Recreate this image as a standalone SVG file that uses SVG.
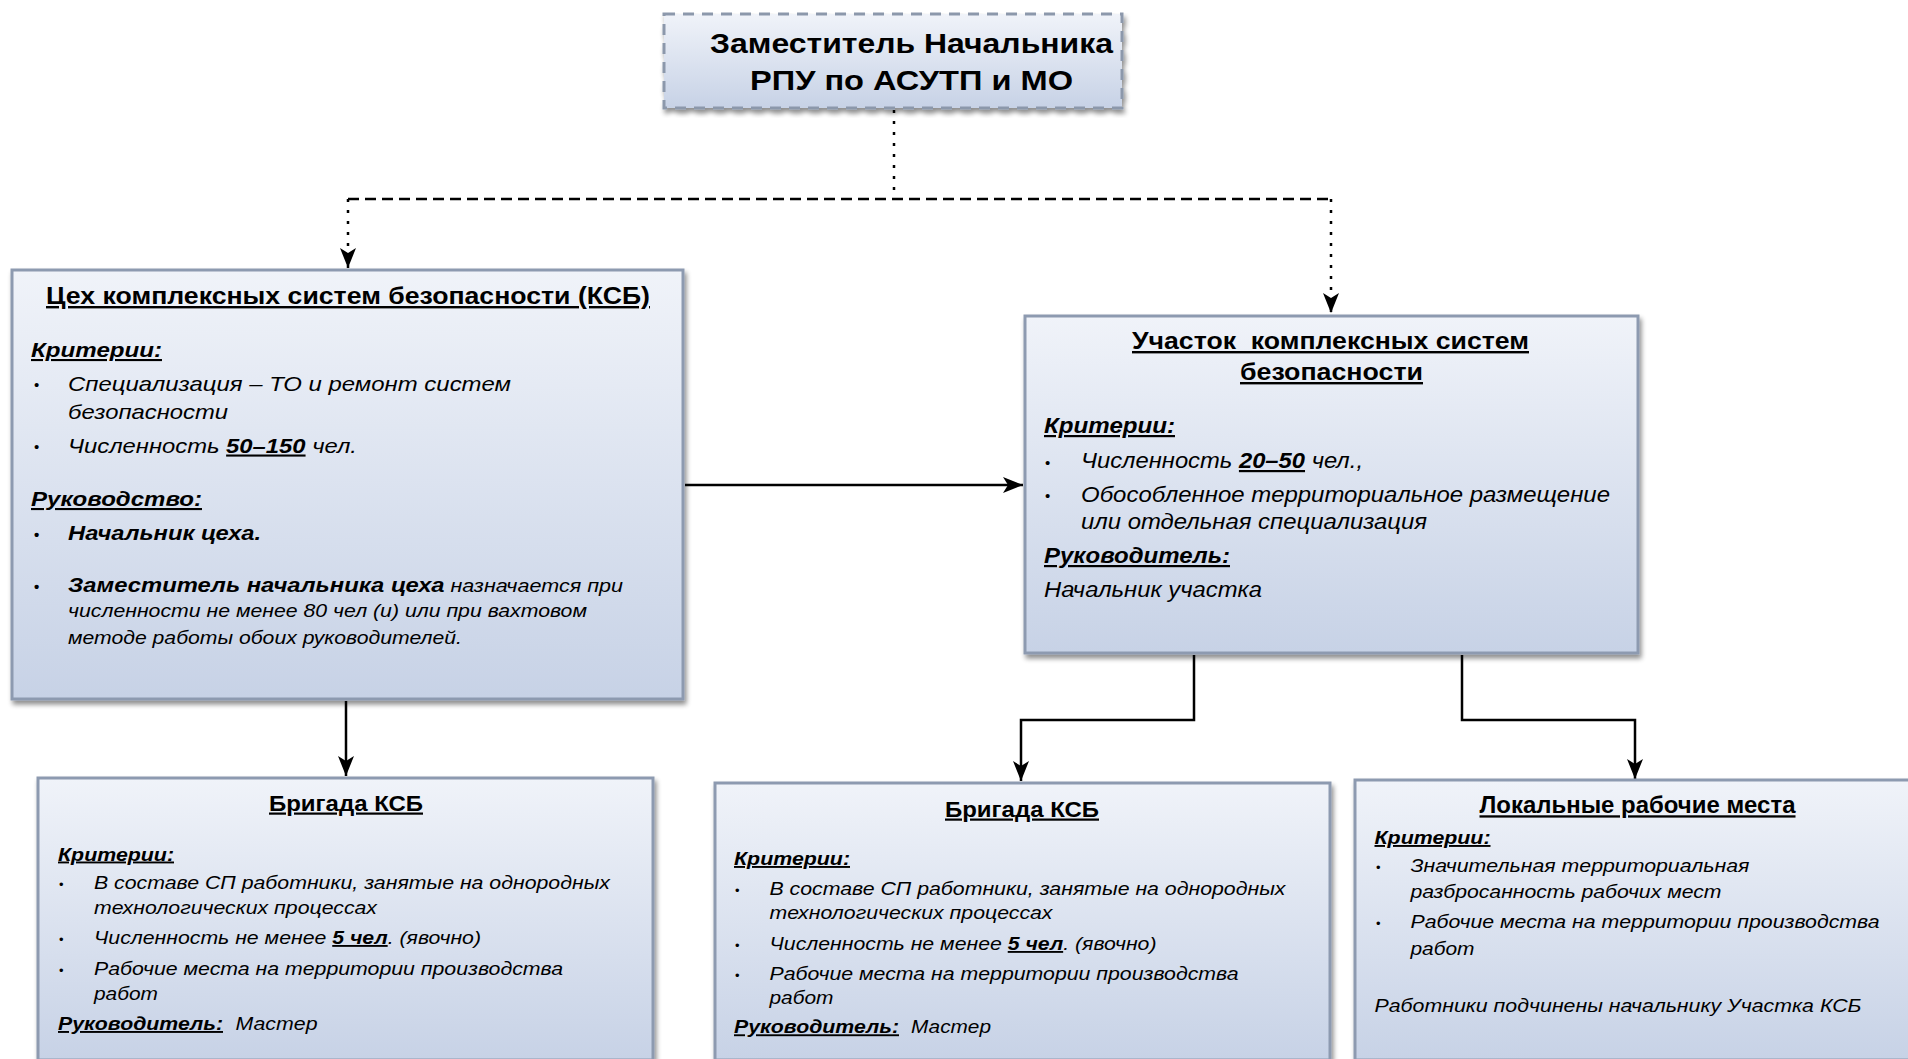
<svg xmlns="http://www.w3.org/2000/svg" width="1908" height="1059" viewBox="0 0 1908 1059">
<style>
.t{font-family:"Liberation Sans",Arial,sans-serif;fill:#000}
.b{font-weight:bold}
.i{font-style:italic}
.u{text-decoration:underline}
.box{fill:url(#g);stroke:#8d9ab0;stroke-width:3;filter:url(#sh)}
.c{fill:none;stroke:#000;stroke-width:2.5}
.dot{fill:none;stroke:#000;stroke-width:2.5;stroke-dasharray:3 8}
.dash{fill:none;stroke:#000;stroke-width:2.5;stroke-dasharray:11 6}
</style>
<defs>
<linearGradient id="g" x1="0" y1="0" x2="0" y2="1">
<stop offset="0" stop-color="#f0f3f9"/>
<stop offset="1" stop-color="#c7d2e6"/>
</linearGradient>
<filter id="sh" x="-5%" y="-5%" width="110%" height="115%">
<feGaussianBlur in="SourceAlpha" stdDeviation="2.5"/>
<feOffset dx="2" dy="4" result="o"/>
<feComponentTransfer><feFuncA type="linear" slope="0.45"/></feComponentTransfer>
<feMerge><feMergeNode/><feMergeNode in="SourceGraphic"/></feMerge>
</filter>
<marker id="ar" markerUnits="userSpaceOnUse" markerWidth="22" markerHeight="18" refX="20" refY="8" orient="auto">
<path d="M0,0 L20,8 L0,16 L5,8 z" fill="#000"/>
</marker>
</defs>

<g id="connectors">
<path class="dot" d="M894,110 V199"/>
<path class="dash" d="M348,199 H1331"/>
<path class="dot" d="M348,199 V268" marker-end="url(#ar)"/>
<path class="dot" d="M1331,199 V313" marker-end="url(#ar)"/>
<path class="c" d="M685,485 H1023" marker-end="url(#ar)"/>
<path class="c" d="M346,701 V776" marker-end="url(#ar)"/>
<path class="c" d="M1194,655 V720 H1021 V781" marker-end="url(#ar)"/>
<path class="c" d="M1462,655 V720 H1635 V779" marker-end="url(#ar)"/>
</g>

<g id="node-top">
<rect x="664" y="14" width="458" height="94" fill="url(#g)" stroke="#8c98ab" stroke-width="3" stroke-dasharray="11 8" filter="url(#sh)"/>
<text class="t b" x="710" y="53" font-size="28" textLength="403" lengthAdjust="spacingAndGlyphs">Заместитель Начальника</text>
<text class="t b" x="750" y="90" font-size="28" textLength="323" lengthAdjust="spacingAndGlyphs">РПУ по АСУТП и МО</text>
</g>

<g id="node-tseh">
<rect class="box" x="12" y="270" width="671" height="429"/>
<text class="t b u" x="46" y="304" font-size="24" textLength="604" lengthAdjust="spacingAndGlyphs">Цех комплексных систем безопасности (КСБ)</text>
<text class="t b i u" x="31" y="357" font-size="21" textLength="131" lengthAdjust="spacingAndGlyphs">Критерии:</text>
<text class="t" x="34" y="390" font-size="15">•</text>
<text class="t i" x="68" y="390.5" font-size="21" textLength="443" lengthAdjust="spacingAndGlyphs">Специализация – ТО и ремонт систем</text>
<text class="t i" x="68" y="419" font-size="21" textLength="160" lengthAdjust="spacingAndGlyphs">безопасности</text>
<text class="t" x="34" y="452" font-size="15">•</text>
<text class="t i" x="68" y="452.5" font-size="21" textLength="289" lengthAdjust="spacingAndGlyphs">Численность <tspan class="b u">50–150</tspan> чел.</text>
<text class="t b i u" x="31" y="506" font-size="21" textLength="171" lengthAdjust="spacingAndGlyphs">Руководство:</text>
<text class="t b" x="34" y="540" font-size="15">•</text>
<text class="t b i" x="68" y="540" font-size="21" textLength="193" lengthAdjust="spacingAndGlyphs">Начальник цеха.</text>
<text class="t b" x="34" y="592" font-size="15">•</text>
<text class="t i" x="68" y="592" font-size="19" textLength="555" lengthAdjust="spacingAndGlyphs"><tspan class="b" font-size="21">Заместитель начальника цеха</tspan> назначается при</text>
<text class="t i" x="68" y="617" font-size="19" textLength="519" lengthAdjust="spacingAndGlyphs">численности не менее 80 чел (и) или при вахтовом</text>
<text class="t i" x="68" y="643.5" font-size="19" textLength="394" lengthAdjust="spacingAndGlyphs">методе работы обоих руководителей.</text>
</g>

<g id="node-uchastok">
<rect class="box" x="1025" y="316" width="613" height="337"/>
<text class="t b u" x="1132" y="349" font-size="24" textLength="397" lengthAdjust="spacingAndGlyphs" xml:space="preserve">Участок  комплексных систем</text>
<text class="t b u" x="1240" y="380" font-size="24" textLength="183" lengthAdjust="spacingAndGlyphs">безопасности</text>
<text class="t b i u" x="1044" y="433" font-size="22" textLength="131" lengthAdjust="spacingAndGlyphs">Критерии:</text>
<text class="t" x="1045" y="468" font-size="15">•</text>
<text class="t i" x="1081" y="468" font-size="22" textLength="282" lengthAdjust="spacingAndGlyphs">Численность <tspan class="b u">20–50</tspan> чел.,</text>
<text class="t" x="1045" y="501" font-size="15">•</text>
<text class="t i" x="1081" y="501.5" font-size="22" textLength="529" lengthAdjust="spacingAndGlyphs">Обособленное территориальное размещение</text>
<text class="t i" x="1081" y="529" font-size="22" textLength="346" lengthAdjust="spacingAndGlyphs">или отдельная специализация</text>
<text class="t b i u" x="1044" y="563" font-size="22" textLength="186" lengthAdjust="spacingAndGlyphs">Руководитель:</text>
<text class="t i" x="1044" y="596.5" font-size="22" textLength="218" lengthAdjust="spacingAndGlyphs">Начальник участка</text>
</g>

<g id="node-brigada-1">
<rect class="box" x="38" y="778" width="615" height="282"/>
<text class="t b u" x="269" y="810.5" font-size="22" textLength="154" lengthAdjust="spacingAndGlyphs">Бригада КСБ</text>
<text class="t b i u" x="58" y="860.5" font-size="19" textLength="116" lengthAdjust="spacingAndGlyphs">Критерии:</text>
<text class="t" x="59" y="889" font-size="13">•</text>
<text class="t i" x="94" y="889.3" font-size="18.5" textLength="516" lengthAdjust="spacingAndGlyphs">В составе СП работники, занятые на однородных</text>
<text class="t i" x="94" y="914" font-size="18.5" textLength="283" lengthAdjust="spacingAndGlyphs">технологических процессах</text>
<text class="t" x="59" y="944" font-size="13">•</text>
<text class="t i" x="94" y="944" font-size="18.5" textLength="387" lengthAdjust="spacingAndGlyphs">Численность не менее <tspan class="b u">5 чел</tspan>. (явочно)</text>
<text class="t" x="59" y="975" font-size="13">•</text>
<text class="t i" x="94" y="975" font-size="18.5" textLength="469" lengthAdjust="spacingAndGlyphs">Рабочие места на территории производства</text>
<text class="t i" x="94" y="1000" font-size="18.5" textLength="64" lengthAdjust="spacingAndGlyphs">работ</text>
<text class="t b i u" x="58" y="1030" font-size="19" textLength="165" lengthAdjust="spacingAndGlyphs">Руководитель:</text>
<text class="t i" x="235.5" y="1030" font-size="18.5" textLength="82" lengthAdjust="spacingAndGlyphs">Мастер</text>
</g>

<g id="node-brigada-2">
<rect class="box" x="715" y="783" width="615" height="277"/>
<text class="t b u" x="945" y="816.5" font-size="22" textLength="154" lengthAdjust="spacingAndGlyphs">Бригада КСБ</text>
<text class="t b i u" x="734" y="865" font-size="19" textLength="116" lengthAdjust="spacingAndGlyphs">Критерии:</text>
<text class="t" x="735" y="894.5" font-size="13">•</text>
<text class="t i" x="769.5" y="895" font-size="18.5" textLength="516" lengthAdjust="spacingAndGlyphs">В составе СП работники, занятые на однородных</text>
<text class="t i" x="769.5" y="919.3" font-size="18.5" textLength="283" lengthAdjust="spacingAndGlyphs">технологических процессах</text>
<text class="t" x="735" y="950" font-size="13">•</text>
<text class="t i" x="769.5" y="950" font-size="18.5" textLength="387" lengthAdjust="spacingAndGlyphs">Численность не менее <tspan class="b u">5 чел</tspan>. (явочно)</text>
<text class="t" x="735" y="980" font-size="13">•</text>
<text class="t i" x="769.5" y="980" font-size="18.5" textLength="469" lengthAdjust="spacingAndGlyphs">Рабочие места на территории производства</text>
<text class="t i" x="769.5" y="1004.3" font-size="18.5" textLength="64" lengthAdjust="spacingAndGlyphs">работ</text>
<text class="t b i u" x="734" y="1033.3" font-size="19" textLength="165" lengthAdjust="spacingAndGlyphs">Руководитель:</text>
<text class="t i" x="911" y="1033.3" font-size="18.5" textLength="80" lengthAdjust="spacingAndGlyphs">Мастер</text>
</g>

<g id="node-local">
<rect class="box" x="1355" y="780" width="570" height="280"/>
<text class="t b u" x="1479.5" y="813.3" font-size="23" textLength="316" lengthAdjust="spacingAndGlyphs">Локальные рабочие места</text>
<text class="t b i u" x="1374.5" y="844" font-size="19" textLength="116" lengthAdjust="spacingAndGlyphs">Критерии:</text>
<text class="t" x="1376" y="871.5" font-size="13">•</text>
<text class="t i" x="1410.5" y="871.7" font-size="19" textLength="339" lengthAdjust="spacingAndGlyphs">Значительная территориальная</text>
<text class="t i" x="1410.5" y="898.3" font-size="19" textLength="311" lengthAdjust="spacingAndGlyphs">разбросанность рабочих мест</text>
<text class="t" x="1376" y="928" font-size="13">•</text>
<text class="t i" x="1410.5" y="928.3" font-size="19" textLength="469" lengthAdjust="spacingAndGlyphs">Рабочие места на территории производства</text>
<text class="t i" x="1410.5" y="955" font-size="19" textLength="64" lengthAdjust="spacingAndGlyphs">работ</text>
<text class="t i" x="1374.5" y="1011.7" font-size="19" textLength="487" lengthAdjust="spacingAndGlyphs">Работники подчинены начальнику Участка КСБ</text>
</g>
</svg>
